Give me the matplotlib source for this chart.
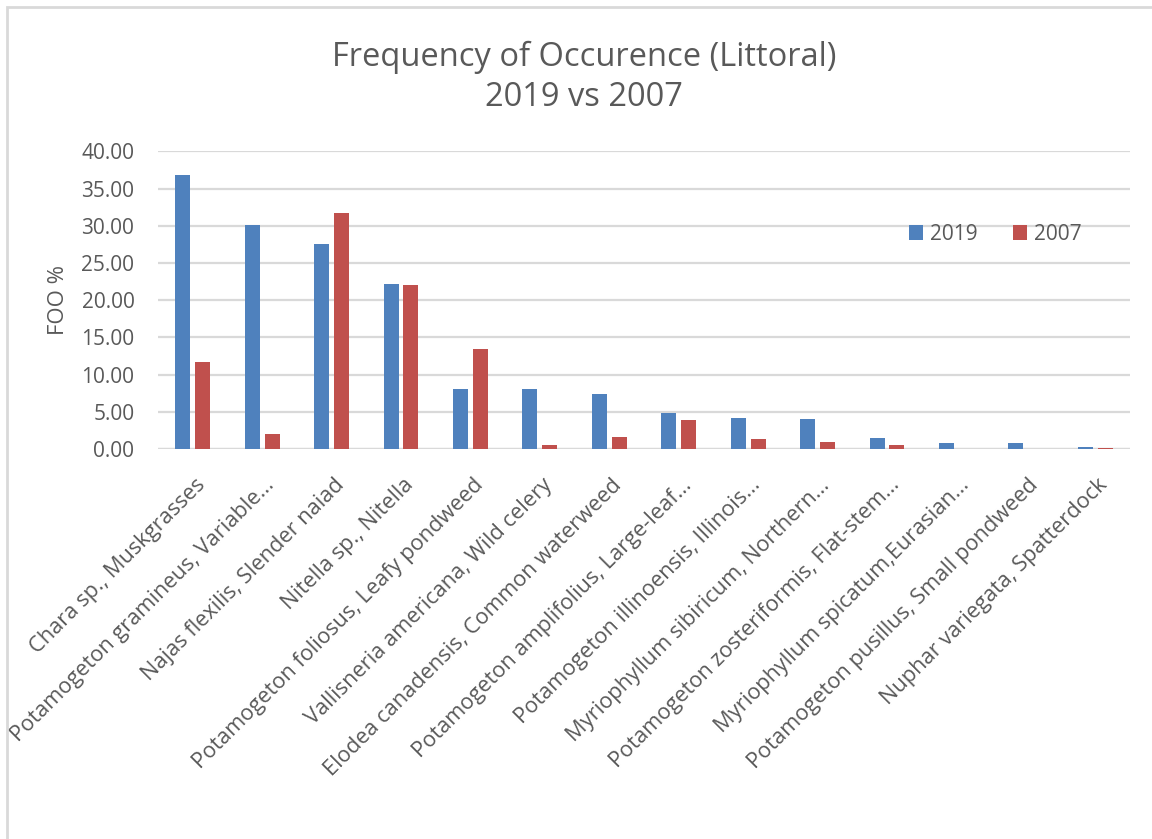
import matplotlib
matplotlib.use("Agg")
import matplotlib.pyplot as plt
import matplotlib.transforms as mtransforms
import numpy as np
from matplotlib.patches import Rectangle

plt.rcParams['font.family'] = ['Open Sans', 'DejaVu Sans']

species = [
    "Chara sp., Muskgrasses",
    "Potamogeton gramineus, Variable...",
    "Najas flexilis, Slender naiad",
    "Nitella sp., Nitella",
    "Potamogeton foliosus, Leafy pondweed",
    "Vallisneria americana, Wild celery",
    "Elodea canadensis, Common waterweed",
    "Potamogeton amplifolius, Large-leaf...",
    "Potamogeton illinoensis, Illinois...",
    "Myriophyllum sibiricum, Northern...",
    "Potamogeton zosteriformis, Flat-stem...",
    "Myriophyllum spicatum,Eurasian...",
    "Potamogeton pusillus, Small pondweed",
    "Nuphar variegata, Spatterdock",
]
foo_2019 = [36.8, 30.06, 27.6, 22.2, 8.06, 8.06, 7.39, 4.9, 4.22, 4.0, 1.53, 0.86, 0.86, 0.22]
foo_2007 = [11.65, 2.06, 31.7, 22.08, 13.4, 0.54, 1.57, 3.87, 1.4, 0.9, 0.5, 0.0, 0.05, 0.08]
yticks = [0, 5, 10, 15, 20, 25, 30, 35, 40]

BLUE = "#4F81BD"
RED = "#C0504D"
TEXT = "#595959"
GRID = "#D9D9D9"

W, H = 1152, 839
fig = plt.figure(figsize=(W / 100, H / 100), dpi=100)
fig.patch.set_facecolor("white")

# chart frame (left and top edges visible)
fig.add_artist(Rectangle((7 / W, -0.1), 1.2, 1 - 7 / H + 0.1, transform=fig.transFigure,
                         fill=False, edgecolor=GRID, linewidth=2))

left, right = 158 / W, 1130 / W
bottom, top = 1 - 449 / H, 1 - 151.3 / H
ax = fig.add_axes([left, bottom, right - left, top - bottom])

x = np.arange(len(species))
bw = 0.216
off = 0.143
ax.bar(x - off, foo_2019, width=bw, color=BLUE, label="2019", zorder=3)
ax.bar(x + off, foo_2007, width=bw, color=RED, label="2007", zorder=3)

ax.set_xlim(-0.5, len(species) - 0.5)
ax.set_ylim(0, 40)
ax.set_yticks(yticks)
ax.set_yticklabels([f"{v:.2f}" for v in yticks], fontsize=15, color=TEXT)
ax.yaxis.grid(True, color=GRID, linewidth=1.6, zorder=0)
ax.set_axisbelow(True)
ax.tick_params(axis='y', length=0, pad=17)
ax.tick_params(axis='x', length=0, pad=18.5)
for s in ax.spines.values():
    s.set_visible(False)
ax.axhline(0, color=GRID, linewidth=1.6, zorder=2)

ax.set_xticks(x)
cat_labels = ax.set_xticklabels(species, rotation=45, ha='right', va='top',
                                rotation_mode='anchor', fontsize=15, color=TEXT)
shift_px = 2.0
shift = mtransforms.ScaledTranslation(shift_px * 0.72 / 72, 0, fig.dpi_scale_trans)
for lbl in cat_labels:
    lbl.set_transform(lbl.get_transform() + shift)

# scale the rotated category labels so their left ends land where the long names reach
left_ends = {0: 22, 1: 16, 4: 184, 12: 744}
renderer = fig.canvas.get_renderer()
size = 15.0
for _ in range(3):
    ratios = []
    for i, target in left_ends.items():
        anchor_x = ax.transData.transform((x[i], 0))[0] + shift_px
        x0 = cat_labels[i].get_window_extent(renderer).x0
        ratios.append((anchor_x - target) / (anchor_x - x0))
    size *= float(np.mean(ratios))
    for lbl in cat_labels:
        lbl.set_fontsize(size)

ax.set_ylabel("FOO %", fontsize=16, color=TEXT)
ax.yaxis.set_label_coords(59 / W, 0.5 * (bottom + top), transform=fig.transFigure)
ax.yaxis.label.set_verticalalignment('center')

fig.text(584 / W, 1 - 66 / H, "Frequency of Occurence (Littoral)", ha='center', va='baseline',
         fontsize=23.5, color=TEXT)
fig.text(584 / W, 1 - 106 / H, "2019 vs 2007", ha='center', va='baseline',
         fontsize=23.5, color=TEXT)

leg = ax.legend(loc='center', bbox_to_anchor=(995 / W, 1 - 234 / H), bbox_transform=fig.transFigure,
                ncol=2, frameon=False, fontsize=15, handlelength=0.7, handleheight=0.7,
                handletextpad=0.3, columnspacing=1.7, borderpad=0)
for t in leg.get_texts():
    t.set_color(TEXT)

fig.savefig("out.png", dpi=100, facecolor="white")
